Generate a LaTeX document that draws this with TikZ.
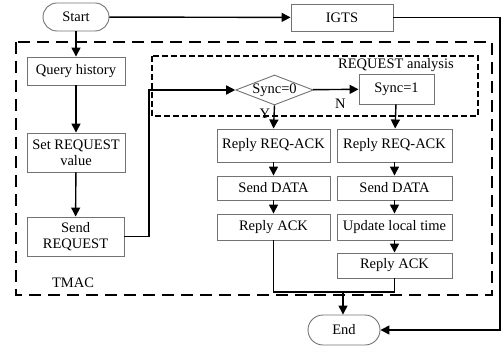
\documentclass[tikz,border=0pt]{standalone}
\usepackage{fontspec}
\setmainfont{Liberation Serif}
\usetikzlibrary{arrows.meta,shapes.geometric}

\begin{document}
\begin{tikzpicture}[
  x=1pt, y=-1pt,
  every node/.style={font=\fontsize{14.5}{16}\selectfont},
  box/.style={draw=black!55, line width=0.9pt, inner sep=0pt, align=center},
  term/.style={box, rounded corners=14pt, minimum width=66pt, minimum height=28pt},
  decision/.style={box, diamond, aspect=2.6, minimum width=77pt, minimum height=30pt},
  arrow/.style={-{Triangle[length=9pt,width=9pt]}, line width=1.4pt},
  link/.style={line width=1.4pt}
]
\useasboundingbox (0,0) rectangle (502,347);

% dashed frames
\draw[line width=2.4pt, dash pattern=on 12pt off 7pt] (16,42) rectangle (492,295);
\draw[line width=1.8pt, dash pattern=on 6pt off 3pt] (152,56) rectangle (478,116);
\node (tmac) at (73,283) {TMAC};
\node (anl) at (396,65) {REQUEST analysis};

% left column
\node[term] (start) at (76,17) {Start};
\node[box, minimum width=102pt, minimum height=27pt] (igts) at (342,17.5) {IGTS};
\node[box, minimum width=98pt, minimum height=28pt] (query) at (76,71) {Query history};
\node[box, minimum width=98pt, minimum height=39pt] (setreq) at (76,152.5) {Set REQUEST\\value};
\node[box, minimum width=97pt, minimum height=39pt] (sendreq) at (75.5,236.5) {Send\\REQUEST};

% analysis
\node[decision] (sync0) at (274.5,90) {Sync=0};
\node[box, minimum width=75pt, minimum height=30pt] (sync1) at (396.5,89) {Sync=1};

% Y branch
\node[box, minimum width=113pt, minimum height=33pt] (yreply) at (273.5,145.5) {Reply REQ-ACK};
\node[box, minimum width=113pt, minimum height=24pt] (ydata) at (273.5,188) {Send DATA};
\node[box, minimum width=113pt, minimum height=26pt] (yack) at (273.5,227) {Reply ACK};

% N branch
\node[box, minimum width=115pt, minimum height=33pt] (nreply) at (394.5,145.5) {Reply REQ-ACK};
\node[box, minimum width=115pt, minimum height=24pt] (ndata) at (394.5,188) {Send DATA};
\node[box, minimum width=115pt, minimum height=26pt] (nupdate) at (394.5,227) {Update local time};
\node[box, minimum width=115pt, minimum height=25pt] (nack) at (394.5,265.5) {Reply ACK};

\node[term, minimum width=72pt, minimum height=30pt, rounded corners=15pt] (end) at (344,330) {End};

\coordinate (turn) at (149,90);
\coordinate (merge) at (343,292);
\coordinate (rim) at (500,17.5);

\draw[arrow] (start) -- (igts);
\draw[arrow] (start) -- (query);
\draw[arrow] (query) -- (setreq);
\draw[arrow] (setreq) -- (sendreq);
\draw[arrow] (sendreq.east) -| (turn) -- (sync0.west);
\draw[arrow] (sync0) -- node[pos=0.6, below=6pt] {N} (sync1);
\draw[arrow] (sync0.south) -- node[pos=0.35, left=0pt] {Y} (yreply.north);
\draw[arrow] (sync1) -- (nreply);
\draw[arrow] (yreply) -- (ydata);
\draw[arrow] (ydata) -- (yack);
\draw[arrow] (nreply) -- (ndata);
\draw[arrow] (ndata) -- (nupdate);
\draw[arrow] (nupdate) -- (nack);
\draw[link] (yack.south) |- (merge);
\draw[link] (nack.south) |- (merge);
\draw[arrow] (merge) -- (end.north -| merge);
\draw[arrow] (igts) -- (rim) |- (end.east);
\end{tikzpicture}
\end{document}
